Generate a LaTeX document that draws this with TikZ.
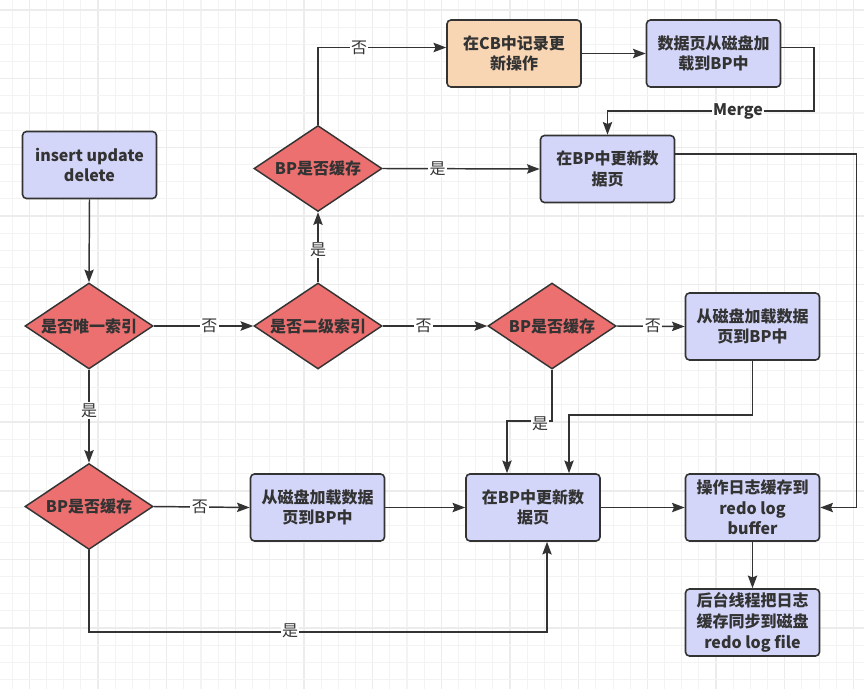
\documentclass[tikz,border=0pt]{standalone}
\usepackage{fontspec}
\setmainfont{Noto Sans CJK SC}
\usetikzlibrary{shapes.geometric,arrows.meta,calc}
\definecolor{boxblue}{RGB}{211,214,248}
\definecolor{dred}{RGB}{236,112,112}
\definecolor{peach}{RGB}{248,214,180}
\definecolor{edge}{RGB}{51,51,51}
\definecolor{gridminor}{RGB}{243,243,243}
\definecolor{gridmajor}{RGB}{236,236,236}
\tikzset{
  procbox/.style={draw=edge, line width=1.2pt, fill=boxblue, rounded corners=3pt,
    minimum width=100.5pt, minimum height=50.25pt, inner sep=1pt, align=center,
    font=\bfseries\fontsize{12}{15.5}\selectfont, text=edge},
  cbbox/.style={procbox, fill=peach},
  decide/.style={draw=edge, line width=1.1pt, fill=dred, diamond, shape aspect=1.49,
    minimum width=96pt, minimum height=64.5pt, inner sep=0pt, align=center,
    font=\bfseries\fontsize{12}{15}\selectfont, text=edge},
  arr/.style={draw=edge, line width=1.1pt, -{Stealth[length=9.5pt,width=7pt,inset=1.5pt]}},
  lbl/.style={fill=white, inner sep=1pt, font=\fontsize{12}{13}\selectfont, text=edge},
  lblb/.style={fill=white, inner sep=1pt, font=\bfseries\fontsize{12}{13}\selectfont, text=edge}
}
\begin{document}
\begin{tikzpicture}[x=0.75pt,y=-0.75pt]
\useasboundingbox (0,0) rectangle (864,689);
\fill[white] (0,0) rectangle (864,689);
% background grid
\foreach \k in {0,...,50}{
  \pgfmathsetmacro{\gx}{12.1+17.17*\k}
  \pgfmathtruncatemacro{\gm}{mod(\k,4)}
  \ifnum\gm=1
    \draw[gridmajor, line width=1.1pt] (\gx,0) -- (\gx,689);
  \else
    \draw[gridminor, line width=0.8pt] (\gx,0) -- (\gx,689);
  \fi
}
\foreach \k in {0,...,40}{
  \pgfmathsetmacro{\gy}{10+17.17*\k}
  \pgfmathtruncatemacro{\gm}{mod(\k,4)}
  \ifnum\gm=0
    \draw[gridmajor, line width=1.1pt] (0,\gy) -- (864,\gy);
  \else
    \draw[gridminor, line width=0.8pt] (0,\gy) -- (864,\gy);
  \fi
}
% nodes
\node[procbox] (ins) at (89.5,165) {insert update\\delete};
\node[decide] (uq) at (89,326) {是否唯一索引};
\node[decide] (sec) at (318,326) {是否二级索引};
\node[decide] (td) at (318,168.5) {BP是否缓存};
\node[decide] (md) at (552,326) {BP是否缓存};
\node[decide] (bd) at (89,506.5) {BP是否缓存};
\node[cbbox] (cb) at (514,53.5) {在CB中记录更\\新操作};
\node[procbox] (ld) at (713.5,53.5) {数据页从磁盘加\\载到BP中};
\node[procbox] (tu) at (607.5,169) {在BP中更新数\\据页};
\node[procbox] (rl) at (752.5,326.5) {从磁盘加载数据\\页到BP中};
\node[procbox] (bl) at (317.5,507.5) {从磁盘加载数据\\页到BP中};
\node[procbox] (up) at (533,507.5) {在BP中更新数\\据页};
\node[procbox] (buf) at (752.5,507.5) {操作日志缓存到\\redo log\\buffer};
\node[procbox] (fil) at (752.5,622.5) {后台线程把日志\\缓存同步到磁盘\\redo log file};
% connectors
\draw[arr] (ins.south) -- (uq.north);
\draw[arr] (uq.east) -- node[lbl, pos=0.56] {否} (sec.west);
\draw[arr] (uq.south) -- node[lbl, pos=0.44] {是} (bd.north);
\draw[arr] (sec.north) -- node[lbl, pos=0.46] {是} (td.south);
\draw[arr] (sec.east) -- node[lbl, pos=0.39] {否} (md.west);
\draw[arr] (td.north) |- node[lbl, pos=0.66] {否} ($(cb.west)+(0,-6)$);
\draw[arr] (cb.east) -- (ld.west);
\coordinate (mg) at (814,111);
\draw[arr] ($(ld.east)+(0,-6)$) -| (mg) -| (tu.north);
\node[lblb] (mglbl) at (738,111) {Merge};
\draw[arr] (td.east) -- node[lbl, pos=0.35] {是} (tu.west);
\draw[arr] ($(tu.east)+(0,-15)$) -| ($(buf.east)+(36,0)$) -- (buf.east);
\draw[arr] (md.east) -- node[lbl, pos=0.53] {否} (rl.west);
\draw[arr] (md.south) |- ($(up.north)+(-26,-52)$) -- ($(up.north)+(-26,0)$);
\node[lbl] (mdlbl) at (540,424) {是};
\draw[arr] (rl.south) |- ($(up.north)+(36,-58)$) -- ($(up.north)+(36,0)$);
\draw[arr] (bd.east) -- node[lbl, pos=0.48] {否} (bl.west);
\draw[arr] (bl.east) -- (up.west);
\draw[arr] (bd.south) |- ($(up.south)+(14,90)$) -- ($(up.south)+(14,0)$);
\node[lbl] (bdlbl) at (290,631) {是};
\draw[arr] (up.east) -- (buf.west);
\draw[arr] (buf.south) -- (fil.north);
\end{tikzpicture}
\end{document}
